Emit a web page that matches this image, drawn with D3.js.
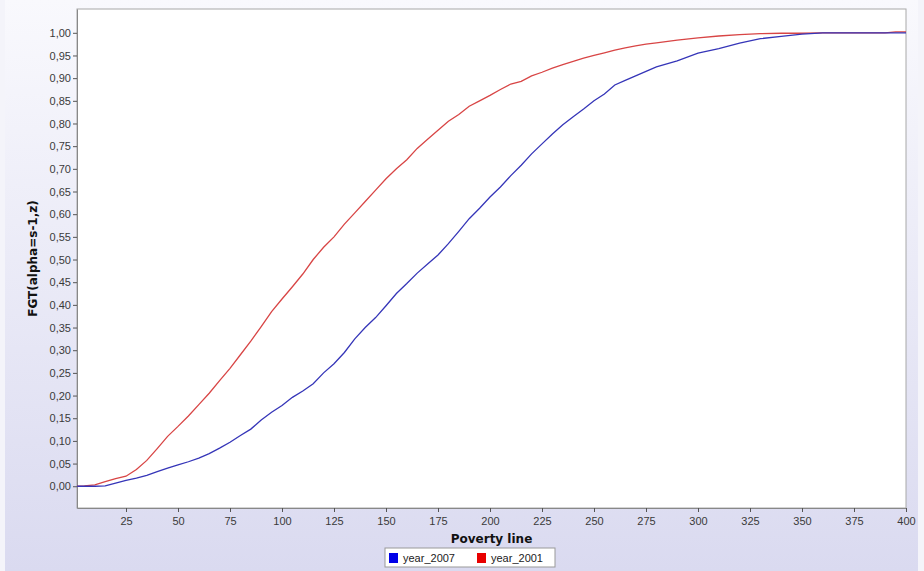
<!DOCTYPE html>
<html>
<head>
<meta charset="utf-8">
<script src="https://cdn.jsdelivr.net/npm/d3@7"></script>
<style>
  body { margin: 0; background: #f4f4fa; }
  svg { display: block; }
</style>
</head>
<body>
<svg width="924" height="571"></svg>
<script>
// poverty line values (shared grid)
var povertyLine = [1.5, 5, 10, 15, 20, 25, 30, 35, 40, 45, 50, 55, 60, 65, 70, 75, 80, 85, 90, 95,
  100, 105, 110, 115, 120, 125, 130, 135, 140, 145, 150, 155, 160, 165, 170, 175, 180, 185, 190, 195,
  200, 205, 210, 215, 220, 225, 230, 235, 240, 245, 250, 255, 260, 265, 270, 275, 280, 290, 300, 310,
  320, 330, 340, 350, 360, 380, 390, 395, 400];

var year2001 = [0.000, 0.001, 0.003, 0.010, 0.017, 0.022, 0.037, 0.057, 0.083, 0.110, 0.132, 0.155, 0.180, 0.205, 0.233, 0.260, 0.290, 0.320, 0.352, 0.385,
  0.413, 0.440, 0.468, 0.500, 0.527, 0.550, 0.578, 0.603, 0.628, 0.653, 0.678, 0.700, 0.720, 0.745, 0.765, 0.785, 0.805, 0.820, 0.838, 0.850,
  0.862, 0.875, 0.887, 0.893, 0.905, 0.913, 0.922, 0.930, 0.937, 0.944, 0.950, 0.956, 0.962, 0.967, 0.971, 0.975, 0.978, 0.984, 0.989, 0.993,
  0.996, 0.998, 0.999, 0.999, 1.000, 1.000, 1.000, 1.002, 1.002];

var year2007 = [0.000, 0.000, 0.000, 0.001, 0.007, 0.013, 0.018, 0.024, 0.032, 0.040, 0.047, 0.054, 0.062, 0.072, 0.084, 0.097, 0.112, 0.126, 0.146, 0.163,
  0.178, 0.196, 0.210, 0.226, 0.250, 0.270, 0.295, 0.325, 0.350, 0.372, 0.398, 0.425, 0.447, 0.470, 0.490, 0.510, 0.535, 0.562, 0.590, 0.613,
  0.638, 0.660, 0.685, 0.708, 0.733, 0.755, 0.777, 0.797, 0.815, 0.832, 0.850, 0.865, 0.885, 0.895, 0.905, 0.915, 0.925, 0.938, 0.955, 0.965,
  0.977, 0.987, 0.992, 0.997, 1.000, 1.000, 1.000, 1.000, 1.000];

var xTicks = [25, 50, 75, 100, 125, 150, 175, 200, 225, 250, 275, 300, 325, 350, 375, 400];
var yTicks = [0, 0.05, 0.10, 0.15, 0.20, 0.25, 0.30, 0.35, 0.40, 0.45, 0.50, 0.55, 0.60, 0.65, 0.70, 0.75, 0.80, 0.85, 0.90, 0.95, 1.00];

var seriesNames = ["year_2007", "year_2001"];
var seriesColors = ["#3535b8", "#d84545"];
var legendColors = ["#0000e8", "#e80000"];

var svg = d3.select("svg"),
	margin = {top: 9, right: 18, bottom: 63, left: 77},
	width = +svg.attr("width") - margin.left - margin.right,
	height = +svg.attr("height") - margin.top - margin.bottom;

// background gradient
var defs = svg.append("defs");
var grad = defs.append("linearGradient").attr("id", "bg")
	.attr("x1", 0).attr("y1", 0).attr("x2", 0).attr("y2", 1);
grad.append("stop").attr("offset", "0%").attr("stop-color", "#f9f9fd");
grad.append("stop").attr("offset", "100%").attr("stop-color", "#dadaf0");

svg.append("rect")
	.attr("x", 5).attr("y", 0)
	.attr("width", 913).attr("height", 571)
	.style("fill", "url(#bg)");

var x = d3.scaleLinear().domain([1.44, 400]).range([0, width]),
	y = d3.scaleLinear().domain([-0.048, 1.0525]).range([height, 0]);

var g = svg.append("g")
	.attr("transform", "translate(" + margin.left + "," + margin.top + ")");

g.append("rect")
	.attr("width", width).attr("height", height)
	.style("fill", "#fff")
	.style("stroke", "#a8a8a8")
	.style("stroke-width", 1);

var fmt = function(d) { return d3.format(".2f")(d).replace(".", ","); };

g.append("g")
	.attr("class", "x_axis")
	.attr("transform", "translate(0," + height + ")")
	.call(d3.axisBottom(x).tickValues(xTicks).tickSizeInner(4).tickSizeOuter(0).tickPadding(5));

g.append("g")
	.attr("class", "y_axis")
	.call(d3.axisLeft(y).tickValues(yTicks).tickFormat(fmt).tickSizeInner(4).tickSizeOuter(0).tickPadding(2));

svg.selectAll(".x_axis path, .y_axis path").style("stroke", "#888");
svg.selectAll(".x_axis line, .y_axis line").style("stroke", "#555");
svg.selectAll(".x_axis text, .y_axis text")
	.style("font-family", "'Liberation Sans', Arial, sans-serif")
	.style("font-size", "11px")
	.style("fill", "#3a3a3a");

// lines
var line = d3.line()
	.x(function(d) { return x(d[0]); })
	.y(function(d) { return y(d[1]); });

[year2001, year2007].forEach(function(vals, i) {
	var idx = i === 0 ? 1 : 0;
	g.append("path")
		.datum(povertyLine.map(function(p, j) { return [p, vals[j]]; }))
		.attr("d", line)
		.style("fill", "none")
		.style("stroke", seriesColors[idx])
		.style("stroke-width", 1.3);
});

// axis titles
svg.append("text")
	.attr("x", margin.left + width / 2)
	.attr("y", 543)
	.attr("text-anchor", "middle")
	.style("font-family", "'DejaVu Sans', sans-serif")
	.style("font-weight", "bold")
	.style("font-size", "12px")
	.style("fill", "#111")
	.text("Poverty line");

svg.append("text")
	.attr("transform", "translate(37," + (margin.top + height / 2) + ") rotate(-90)")
	.attr("text-anchor", "middle")
	.style("font-family", "'DejaVu Sans', sans-serif")
	.style("font-weight", "bold")
	.style("font-size", "12px")
	.style("fill", "#111")
	.text("FGT(alpha=s-1,z)");

// legend
var legend = svg.append("g").attr("transform", "translate(385,548)");
legend.append("rect")
	.attr("width", 170).attr("height", 19)
	.style("fill", "#fff")
	.style("stroke", "#999");

var itemX = [4, 92];
seriesNames.forEach(function(name, i) {
	legend.append("rect")
		.attr("x", itemX[i]).attr("y", 5)
		.attr("width", 9).attr("height", 10)
		.style("fill", legendColors[i]);
	legend.append("text")
		.attr("x", itemX[i] + 14).attr("y", 14)
		.style("font-family", "'Liberation Sans', Arial, sans-serif")
		.style("font-size", "11px")
		.style("fill", "#222")
		.text(name);
});
</script>
</body>
</html>
